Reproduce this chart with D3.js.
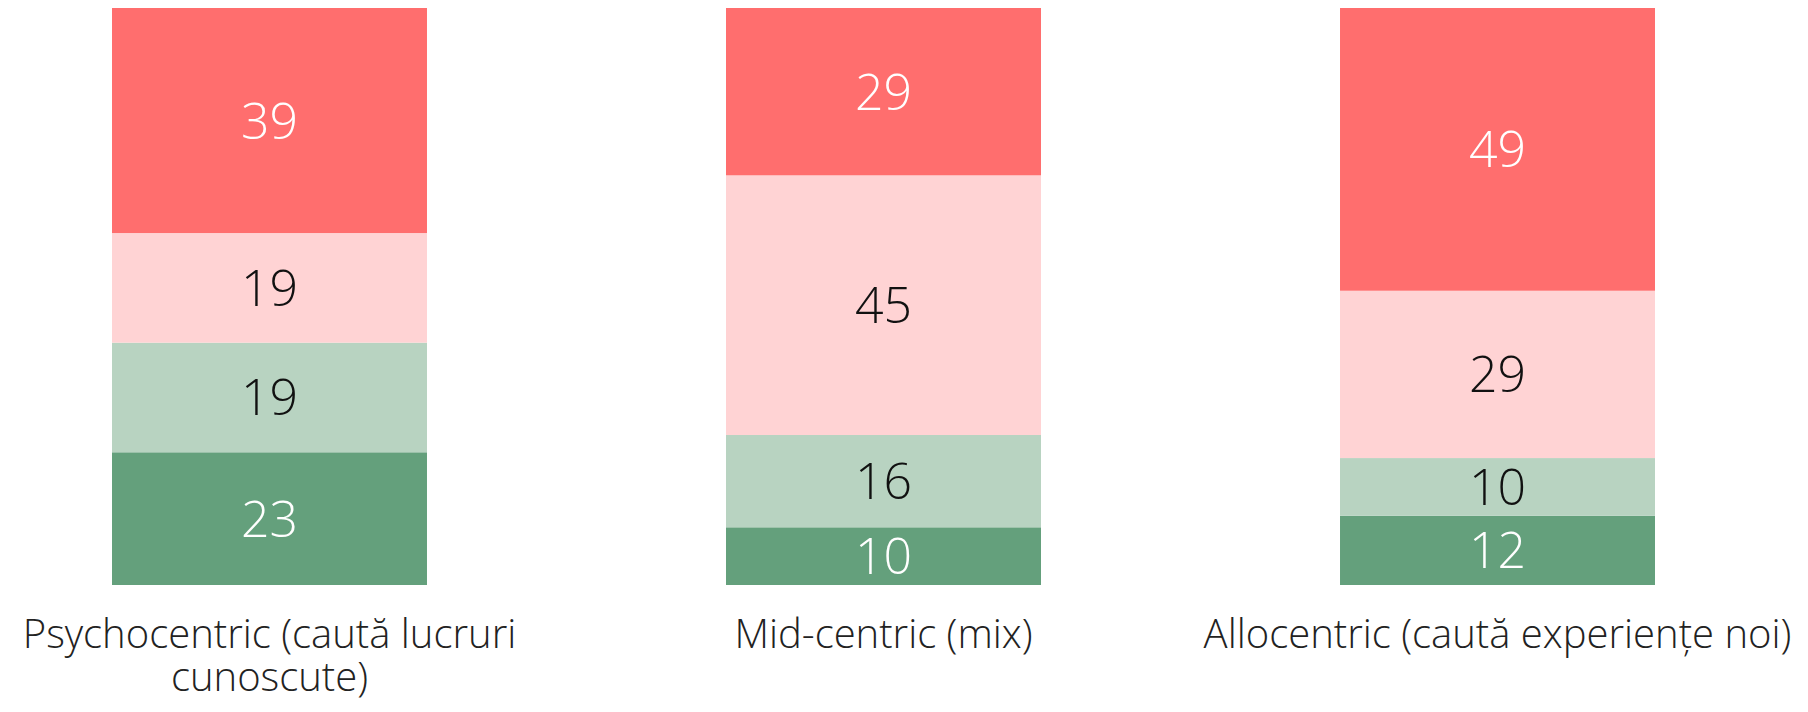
<!DOCTYPE html>
<html>
<head>
<meta charset="utf-8">
<script src="https://cdn.jsdelivr.net/npm/d3@7"></script>
<style>
  html, body { margin: 0; padding: 0; background: #fff; }
  svg { display: block; }
  text { font-family: "Open Sans", "Noto Sans", sans-serif; font-weight: 300; }
</style>
</head>
<body>
<svg id="chart" width="1808" height="712"></svg>
<script>
// Categories (x axis) and stacked segment values, bottom to top
const categories = [
  "Psychocentric (caută lucruri cunoscute)",
  "Mid-centric (mix)",
  "Allocentric (caută experiențe noi)"
];
const seriesKeys = ["level1", "level2", "level3", "level4"];
const level1 = [23, 10, 12];
const level2 = [19, 16, 10];
const level3 = [19, 45, 29];
const level4 = [39, 29, 49];

const seriesColors = ["#64a07c", "#b8d3c1", "#ffd3d4", "#ff6e6e"];
const labelColors = ["#ffffff", "#111111", "#111111", "#ffffff"];

const rows = categories.map((c, i) => ({
  category: c,
  level1: level1[i], level2: level2[i], level3: level3[i], level4: level4[i]
}));

const svg = d3.select("#chart");

const x = d3.scaleBand()
  .domain(categories)
  .range([112, 1655])
  .paddingInner(0.487)
  .paddingOuter(0);

const y = d3.scaleLinear()
  .domain([0, 100])
  .range([585, 8]);

const color = d3.scaleOrdinal().domain(seriesKeys).range(seriesColors);
const textColor = d3.scaleOrdinal().domain(seriesKeys).range(labelColors);

const stacked = d3.stack().keys(seriesKeys)(rows);

const layers = svg.append("g")
  .selectAll("g")
  .data(stacked)
  .join("g")
  .attr("fill", d => color(d.key));

layers.selectAll("rect")
  .data(d => d.map(p => ({ key: d.key, p })))
  .join("rect")
  .attr("x", d => x(d.p.data.category))
  .attr("y", d => y(d.p[1]))
  .attr("width", x.bandwidth())
  .attr("height", d => y(d.p[0]) - y(d.p[1]));

// Value labels centred in each segment
svg.append("g")
  .selectAll("g")
  .data(stacked)
  .join("g")
  .selectAll("text")
  .data(d => d.map(p => ({ key: d.key, p })))
  .join("text")
  .attr("x", d => x(d.p.data.category) + x.bandwidth() / 2)
  .attr("y", d => (y(d.p[0]) + y(d.p[1])) / 2)
  .attr("dy", "0.36em")
  .attr("text-anchor", "middle")
  .attr("font-size", 50)
  .attr("fill", d => textColor(d.key))
  .text(d => d.p[1] - d.p[0]);

// Category axis without domain line or ticks, labels wrapped to the band step
const xAxis = d3.axisBottom(x).tickSize(0).tickPadding(0);
const axisG = svg.append("g")
  .attr("transform", `translate(0, ${y(0)})`)
  .call(xAxis);
axisG.select(".domain").remove();
axisG.selectAll(".tick text")
  .attr("font-size", 40)
  .attr("fill", "#222")
  .attr("dy", null)
  .attr("font-family", "'Open Sans', 'Noto Sans', sans-serif")
  .attr("font-weight", 300)
  .call(wrap, x.step());

function wrap(sel, width) {
  sel.each(function () {
    const t = d3.select(this);
    const words = t.text().split(/\s+/);
    t.text(null);
    const firstBaseline = 63;
    const lineHeight = 43;
    let line = [];
    let lineNo = 0;
    let tspan = t.append("tspan").attr("x", 0).attr("y", firstBaseline);
    for (const w of words) {
      line.push(w);
      tspan.text(line.join(" "));
      if (tspan.node().getComputedTextLength() > width && line.length > 1) {
        line.pop();
        tspan.text(line.join(" "));
        line = [w];
        lineNo++;
        tspan = t.append("tspan").attr("x", 0)
          .attr("y", firstBaseline + lineNo * lineHeight).text(w);
      }
    }
  });
}
</script>
</body>
</html>
